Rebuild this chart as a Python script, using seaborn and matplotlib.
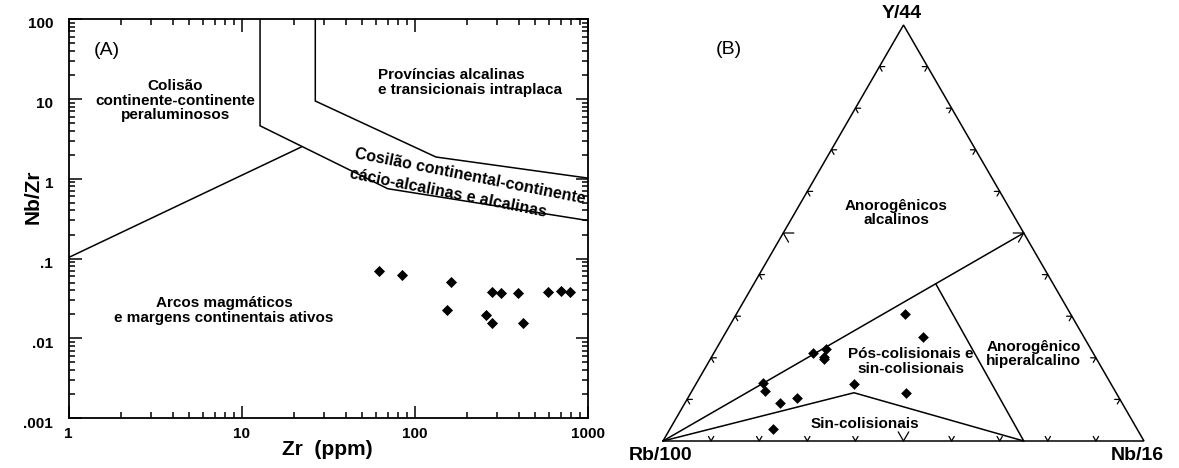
import numpy as np
import matplotlib
matplotlib.use("Agg")
from matplotlib import pyplot as plt
from matplotlib import ticker
from matplotlib.transforms import ScaledTranslation
import seaborn as sns

# ---- panel A: Nb/Zr vs Zr (log-log) ----
zr_ppm = [62.5, 85, 163, 155, 282, 318, 397, 258, 282, 422, 588, 706, 790]
nb_zr = [0.070, 0.062, 0.051, 0.0228, 0.0387, 0.0372, 0.037, 0.0195, 0.0154, 0.0158, 0.0384, 0.0398, 0.0387]

# field boundaries (Zr, Nb/Zr)
bound1_zr = [12.8, 12.8, 70, 1000]
bound1_nbzr = [100, 4.6, 0.75, 0.30]
bound2_zr = [26.7, 26.7, 133, 1000]
bound2_nbzr = [100, 9.4, 1.87, 1.02]
bound3_zr = [1, 22.2]
bound3_nbzr = [0.103, 2.5]

xticks_a = [1, 10, 100, 1000]
xticklabels_a = ["1", "10", "100", "1000"]
yticks_a = [0.001, 0.01, 0.1, 1, 10, 100]
yticklabels_a = [".001", ".01", ".1", "1", "10", "100"]

# ---- panel B: Rb/100 - Y/44 - Nb/16 ternary ----
rb = [0.345, 0.334, 0.582, 0.552, 0.563, 0.566, 0.723, 0.727, 0.711, 0.669, 0.535, 0.437, 0.757]
yy = [0.305, 0.250, 0.212, 0.220, 0.203, 0.198, 0.139, 0.121, 0.091, 0.103, 0.137, 0.115, 0.030]
nb = [0.350, 0.416, 0.206, 0.228, 0.234, 0.236, 0.138, 0.152, 0.198, 0.228, 0.328, 0.448, 0.213]

# boundaries as (Rb, Y, Nb)
tri_outline = [(1, 0, 0), (0, 0, 1), (0, 1, 0), (1, 0, 0)]
field_anorog = [(1, 0, 0), (0, 0.5, 0.5)]
field_hiper = [(0.25, 0, 0.75), (0.244, 0.378, 0.378)]
field_sincol = [(1, 0, 0), (0.545, 0.116, 0.339), (0.25, 0, 0.75)]
tick_steps = [0.1, 0.2, 0.3, 0.4, 0.5, 0.6, 0.7, 0.8, 0.9]


def tern(comp):
	comp = np.atleast_2d(np.asarray(comp, dtype=float))
	tot = comp.sum(axis=1)
	y = comp[:, 1] / tot
	n = comp[:, 2] / tot
	return n + y / 2, y


sns.set_style("ticks")
plt.rcParams['font.family'] = ['Liberation Sans', 'DejaVu Sans']
plt.rcParams['font.weight'] = 'bold'
for k in ['text.color', 'axes.labelcolor', 'xtick.color', 'ytick.color', 'axes.edgecolor']:
	plt.rcParams[k] = 'black'

fig = plt.figure(figsize=(11.79, 4.68), dpi=100)

# ================= panel A =================
ax = fig.add_axes([68.5 / 1179, 49.7 / 468, 519 / 1179, 399.3 / 468])
ax.set_xscale('log')
ax.set_yscale('log')
lc = dict(color='black', lw=1.1, solid_joinstyle='miter')
ax.plot(bound1_zr, bound1_nbzr, **lc)
ax.plot(bound2_zr, bound2_nbzr, **lc)
ax.plot(bound3_zr, bound3_nbzr, **lc)
sns.scatterplot(x=zr_ppm, y=nb_zr, marker='D', color='black', s=32, linewidth=0, ax=ax, zorder=3)
ax.set_xlim(1, 1000)
ax.set_ylim(0.001, 100)
ax.set_xticks(xticks_a)
ax.set_xticklabels(xticklabels_a)
ax.set_yticks(yticks_a)
ax.set_yticklabels(yticklabels_a)
ax.xaxis.set_minor_locator(ticker.LogLocator(base=10, subs=range(2, 10), numticks=20))
ax.yaxis.set_minor_locator(ticker.LogLocator(base=10, subs=range(2, 10), numticks=20))
ax.xaxis.set_minor_formatter(ticker.NullFormatter())
ax.yaxis.set_minor_formatter(ticker.NullFormatter())
ax.tick_params(which='both', direction='in', top=True, right=True, width=1.1, color='black')
ax.tick_params(which='major', length=9)
ax.tick_params(which='minor', length=4.5)
ax.tick_params(axis='x', which='major', pad=6, labelsize=11)
ax.tick_params(axis='y', which='major', pad=11, labelsize=11)
for lab in ax.get_xticklabels() + ax.get_yticklabels():
	lab.set_fontweight('bold')
for sp in ax.spines.values():
	sp.set_linewidth(1.3)
	sp.set_color('black')
off = ScaledTranslation(0, -4 / 100, fig.dpi_scale_trans)
for t in ax.yaxis.get_major_ticks():
	t.label1.set_transform(t.label1.get_transform() + off)

ax.set_xlabel("Zr  (ppm)", fontsize=15, fontweight='bold', va='center')
ax.xaxis.set_label_coords(0.498, -0.079)
ax.set_ylabel("Nb/Zr", fontsize=15, fontweight='bold', va='center')
ax.yaxis.set_label_coords(-0.069, 0.554)

ax.text(0.049, 0.922, "(A)", transform=ax.transAxes, fontsize=14, fontweight='normal', ha='left', va='center')
ax.text(0.206, 0.795, "Colisão\ncontinente-continente\nperaluminosos", transform=ax.transAxes,
	fontsize=11, ha='center', va='center', linespacing=1.05)
ax.text(0.596, 0.841, "Províncias alcalinas\ne transicionais intraplaca", transform=ax.transAxes,
	fontsize=11, ha='left', va='center', linespacing=1.05)
ax.text(0.2994, 0.27, "Arcos magmáticos\ne margens continentais ativos", transform=ax.transAxes,
	fontsize=11, ha='center', va='center', linespacing=1.05)
ax.text(0.552, 0.662, "Cosilão continental-continente", transform=ax.transAxes, fontsize=11.5,
	ha='left', va='center', rotation=-11.2, rotation_mode='anchor')
ax.text(0.5424, 0.612, "cácio-alcalinas e alcalinas", transform=ax.transAxes, fontsize=11.5,
	ha='left', va='center', rotation=-11.2, rotation_mode='anchor')

# ================= panel B =================
bx = fig.add_axes([663 / 1179, 27 / 468, 481 / 1179, 416 / 468])
bx.set_xlim(0, 1)
bx.set_ylim(0, 1)
bx.axis('off')

for seg in [tri_outline, field_anorog, field_hiper, field_sincol]:
	sx, sy = tern(seg)
	bx.plot(sx, sy, color='black', lw=1.1, solid_joinstyle='miter', clip_on=False)

# chevron ticks along the three edges
for t in tick_steps:
	d = 0.022 if abs(t - 0.5) < 1e-9 else 0.011
	chevrons = [
		[(1 - t - d, d, t), (1 - t, 0, t), (1 - t, d, t - d)],          # bottom
		[(1 - t - d, t, d), (1 - t, t, 0), (1 - t, t - d, d)],          # left
		[(d, t, 1 - t - d), (0, t, 1 - t), (d, t - d, 1 - t)],          # right
	]
	for ch in chevrons:
		cx, cy = tern(ch)
		bx.plot(cx, cy, color='black', lw=0.9, clip_on=False)

px, py = tern(np.column_stack([rb, yy, nb]))
sns.scatterplot(x=px, y=py, marker='D', color='black', s=30, linewidth=0, ax=bx, zorder=3)

bx.text(0.4963, 1.028, "Y/44", fontsize=14, ha='center', va='center')
bx.text(-0.006, -0.034, "Rb/100", fontsize=14, ha='center', va='center')
bx.text(0.9854, -0.034, "Nb/16", fontsize=14, ha='center', va='center')
bx.text(0.137, 0.94, "(B)", fontsize=14, fontweight='normal', ha='center', va='center')
bx.text(0.4854, 0.548, "Anorogênicos\nalcalinos", fontsize=11, ha='center', va='center', linespacing=1.05)
bx.text(0.5156, 0.1906, "Pós-colisionais e\nsin-colisionais", fontsize=11, ha='center', va='center', linespacing=1.05)
bx.text(0.771, 0.209, "Anorogênico\nhiperalcalino", fontsize=11, ha='center', va='center', linespacing=1.05)
bx.text(0.4189, 0.0397, "Sin-colisionais", fontsize=11, ha='center', va='center')

fig.savefig("out.png", dpi=100)
